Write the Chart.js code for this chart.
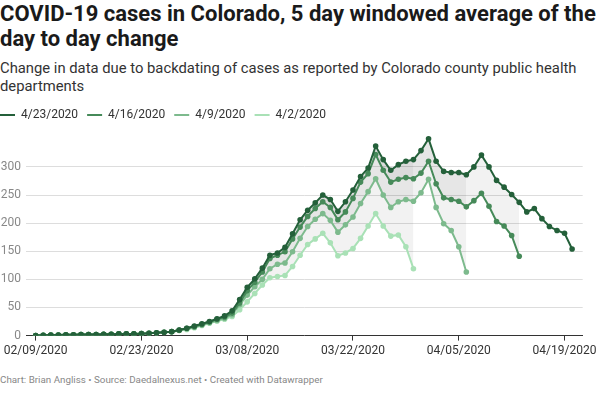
<!DOCTYPE html>
<html>
<head>
<meta charset="utf-8">
<script src="https://cdn.jsdelivr.net/npm/chart.js@4.4.0/dist/chart.umd.min.js"></script>
<style>
  body { margin: 0; background: #fff; font-family: Roboto, sans-serif; }
  #wrap { position: relative; width: 600px; height: 400px; overflow: hidden; }
  h1 { position: absolute; left: 0; top: 1px; margin: 0; font-size: 22px; line-height: 25px; font-weight: 700; color: #1a1a1a; white-space: nowrap; }
  .sub { position: absolute; left: 0; top: 59px; font-size: 14.8px; line-height: 18px; color: #333; white-space: nowrap; }
  .foot { position: absolute; left: 0; top: 374px; font-size: 9.8px; color: #888; white-space: nowrap; }
  #box { position: absolute; left: 0; top: 100px; width: 600px; height: 261px; }
</style>
</head>
<body>
<div id="wrap">
  <h1>COVID-19 cases in Colorado, 5 day windowed average of the<br>day to day change</h1>
  <div class="sub">Change in data due to backdating of cases as reported by Colorado county public health<br>departments</div>
  <div id="box"><canvas id="grafico"></canvas></div>
  <div class="foot">Chart: Brian Angliss • Source: Daedalnexus.net • Created with Datawrapper</div>
</div>
<script>
// dates of the windowed average, one per day
const dates = [
  '02/09/2020','02/10/2020','02/11/2020','02/12/2020','02/13/2020','02/14/2020','02/15/2020',
  '02/16/2020','02/17/2020','02/18/2020','02/19/2020','02/20/2020','02/21/2020','02/22/2020',
  '02/23/2020','02/24/2020','02/25/2020','02/26/2020','02/27/2020','02/28/2020','02/29/2020',
  '03/01/2020','03/02/2020','03/03/2020','03/04/2020','03/05/2020','03/06/2020','03/07/2020',
  '03/08/2020','03/09/2020','03/10/2020','03/11/2020','03/12/2020','03/13/2020','03/14/2020',
  '03/15/2020','03/16/2020','03/17/2020','03/18/2020','03/19/2020','03/20/2020','03/21/2020',
  '03/22/2020','03/23/2020','03/24/2020','03/25/2020','03/26/2020','03/27/2020','03/28/2020',
  '03/29/2020','03/30/2020','03/31/2020','04/01/2020','04/02/2020','04/03/2020','04/04/2020',
  '04/05/2020','04/06/2020','04/07/2020','04/08/2020','04/09/2020','04/10/2020','04/11/2020',
  '04/12/2020','04/13/2020','04/14/2020','04/15/2020','04/16/2020','04/17/2020','04/18/2020',
  '04/19/2020','04/20/2020'
];
const tickDates = ['02/09/2020','02/23/2020','03/08/2020','03/22/2020','04/05/2020','04/19/2020'];

const seriesNames = ['4/23/2020', '4/16/2020', '4/9/2020', '4/2/2020'];
const colors = ['#24603a', '#468a59', '#7dba8d', '#a9e1b6'];

const rep0423 = [0,0.5,1,1,1.5,1.5,2,2,2,2.5,2.5,3,3,3,3.5,4,5,6,7,10,13,17,21,25,30,35,
  44,64,86,101,120,143,147,157,181,206,223,236,250,242,221,238,259,283,298,337,313,294,304,310,
  313,329,350,310,292,290,290,286,300,321,300,276,264,251,237,220,226,208,194,187,182,154];
const rep0416 = [0,0.5,1,1,1.5,1.5,2,2,2,2.5,2.5,3,3,3,3.5,4,5,6,7,10,13,16,20,24,29,33,
  40,58,80,95,113,137,143,149,172,193,212,226,238,228,206,220,244,273,288,322,294,273,278,281,
  279,289,310,270,245,242,239,229,240,253,230,203,195,178,141];
const rep0409 = [0,0.5,1,1,1.5,1.5,2,2,2,2.5,2.5,3,3,3,3.5,4,5,6,7,9,12,15,19,23,27,31,
  37,55,72,87,100,119,127,129,149,173,194,207,217,205,184,197,211,235,256,279,250,228,238,242,
  239,254,278,228,199,187,158,113];
const rep0402 = [0,0.5,1,1,1.5,1.5,2,2,2,2.5,2.5,3,3,3,3.5,4,4.5,5.5,6.5,9,11,14,18,22,26,29,
  34,46,60,75,90,103,105,107,123,143,162,172,182,165,142,147,155,173,195,217,195,177,179,158,119];

const allSeries = [rep0423, rep0416, rep0409, rep0402];

const datasets = allSeries.map((vals, i) => ({
  label: seriesNames[i],
  data: vals.map((v, d) => ({ x: d, y: v })),
  borderColor: colors[i],
  backgroundColor: 'rgba(0,0,0,0.05)',
  pointBackgroundColor: colors[i],
  pointBorderWidth: 0,
  pointRadius: 2.8,
  borderWidth: 2,
  tension: 0,
  fill: i === 0 ? false : { target: 0 }
}));

// legend sits at the left edge and a bit above the plot
const legendShift = {
  id: 'legendShift',
  afterLayout(chart) {
    chart.legend.left -= 9;
    chart.legend.top -= 5;
  }
};

new Chart('grafico', {
  type: 'line',
  data: { datasets: datasets },
  plugins: [legendShift],
  options: {
    responsive: true,
    maintainAspectRatio: false,
    animation: false,
    layout: { padding: { left: 0, right: 16, top: 5, bottom: 0 } },
    plugins: {
      filler: { drawTime: 'beforeDatasetsDraw' },
      tooltip: { enabled: false },
      legend: {
        align: 'start',
        labels: {
          boxWidth: 15,
          boxHeight: 2,
          padding: 9,
          color: '#333',
          font: { family: 'Roboto', size: 12 },
          generateLabels(chart) {
            return chart.data.datasets.map((ds, i) => ({
              text: ds.label,
              fillStyle: ds.borderColor,
              strokeStyle: ds.borderColor,
              lineWidth: 0,
              fontColor: '#333',
              datasetIndex: i
            }));
          }
        }
      }
    },
    scales: {
      x: {
        type: 'linear',
        min: -1.28,
        max: 72.4,
        afterBuildTicks(scale) {
          scale.ticks = tickDates.map(t => ({ value: dates.indexOf(t) }));
        },
        ticks: {
          color: '#333',
          font: { family: 'Roboto', size: 12 },
          maxRotation: 0,
          autoSkip: false,
          padding: 3,
          callback: v => dates[v]
        },
        grid: { drawOnChartArea: false, color: '#333', tickLength: 5 },
        border: { color: '#333', width: 1 }
      },
      y: {
        min: 0,
        max: 355,
        afterBuildTicks(scale) {
          scale.ticks = [0, 50, 100, 150, 200, 250, 300].map(v => ({ value: v }));
        },
        afterFit(scale) { scale.width = 26; },
        ticks: {
          color: '#888',
          font: { family: 'Roboto', size: 12 },
          padding: 5
        },
        grid: { color: '#ddd', drawTicks: false },
        border: { display: false }
      }
    }
  }
});
</script>
</body>
</html>
